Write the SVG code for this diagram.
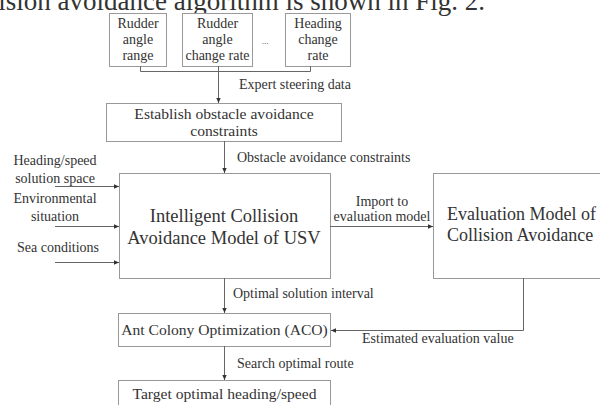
<svg xmlns="http://www.w3.org/2000/svg" width="600" height="405" viewBox="0 0 600 405">
<defs>
<marker id="ah" markerWidth="6" markerHeight="6" refX="5" refY="3" orient="auto" markerUnits="userSpaceOnUse">
<path d="M0,0.8 L5,3 L0,5.2 Z" fill="#333"/>
</marker>
<style>
.box{fill:#fff;stroke:#999;stroke-width:1}
.ln{fill:none;stroke:#666;stroke-width:1}
.t{font-family:"Liberation Serif","Times New Roman",serif;fill:#333}
.s{font-size:14px}
.m{font-size:15.6px}
.b{font-size:18.5px}
.c{text-anchor:middle}
</style>
</defs>
<rect width="600" height="405" fill="#fff"/>
<text class="t" x="485" y="9.5" font-size="27" text-anchor="end">collision avoidance algorithm is shown in Fig. 2.</text>
<g id="n_rudder_range">
<rect class="box" x="109.5" y="13.5" width="57" height="53"/>
<text class="t s c" x="138" y="28">Rudder</text>
<text class="t s c" x="138" y="44">angle</text>
<text class="t s c" x="138" y="60">range</text>
</g>
<g id="n_rudder_rate">
<rect class="box" x="182.5" y="13.5" width="70" height="53"/>
<text class="t s c" x="217.5" y="28">Rudder</text>
<text class="t s c" x="217.5" y="44">angle</text>
<text class="t s c" x="217.5" y="60">change rate</text>
</g>
<text class="t" x="265" y="44" font-size="9" text-anchor="middle">...</text>
<g id="n_heading_rate">
<rect class="box" x="285.5" y="13.5" width="65" height="53"/>
<text class="t s c" x="318" y="28">Heading</text>
<text class="t s c" x="318" y="44">change</text>
<text class="t s c" x="318" y="60">rate</text>
</g>
<g id="n_establish">
<rect class="box" x="106.5" y="103.5" width="235" height="38"/>
<text class="t m c" x="224" y="119">Establish obstacle avoidance</text>
<text class="t m c" x="224" y="136">constraints</text>
</g>
<g id="n_main">
<rect class="box" x="119.5" y="173.5" width="211" height="105"/>
<text class="t b c" x="224" y="222">Intelligent Collision</text>
<text class="t b c" x="224" y="244">Avoidance Model of USV</text>
</g>
<g id="n_eval">
<rect class="box" x="433.5" y="173.5" width="180" height="105"/>
<text class="t" x="447" y="220" font-size="18">Evaluation Model of</text>
<text class="t" x="447" y="241" font-size="18">Collision Avoidance</text>
</g>
<g id="n_aco">
<rect class="box" x="118.5" y="313.5" width="212" height="33"/>
<text class="t m c" x="224.5" y="335">Ant Colony Optimization (ACO)</text>
</g>
<g id="n_target">
<rect class="box" x="118.5" y="380.5" width="212" height="40"/>
<text class="t m c" x="224.5" y="399">Target optimal heading/speed</text>
</g>
<g id="connectors">
<path class="ln" d="M140.5,66 V71.5 H310.5 V66 M218.5,66 V71.5"/>
<path class="ln" d="M218.5,71.5 V103" marker-end="url(#ah)"/>
<path class="ln" d="M224.5,141 V173" marker-end="url(#ah)"/>
<path class="ln" d="M55,186.5 H119" marker-end="url(#ah)"/>
<path class="ln" d="M55,226.5 H119" marker-end="url(#ah)"/>
<path class="ln" d="M55,262.5 H119" marker-end="url(#ah)"/>
<path class="ln" d="M330,226.5 H433" marker-end="url(#ah)"/>
<path class="ln" d="M224.5,278 V313" marker-end="url(#ah)"/>
<path class="ln" d="M523.5,278 V330.5 H331" marker-end="url(#ah)"/>
<path class="ln" d="M224.5,346 V380" marker-end="url(#ah)"/>
</g>
<g id="labels">
<text class="t s" x="239" y="89">Expert steering data</text>
<text class="t s" x="237" y="162">Obstacle avoidance constraints</text>
<text class="t s c" x="55" y="165">Heading/speed</text>
<text class="t s c" x="55" y="183">solution space</text>
<text class="t s c" x="55" y="203">Environmental</text>
<text class="t s c" x="55" y="221">situation</text>
<text class="t s c" x="58" y="252">Sea conditions</text>
<text class="t s c" x="382" y="206">Import to</text>
<text class="t s c" x="382" y="221">evaluation model</text>
<text class="t s" x="233" y="298">Optimal solution interval</text>
<text class="t s" x="362" y="343">Estimated evaluation value</text>
<text class="t s" x="237" y="368">Search optimal route</text>
</g>
</svg>
